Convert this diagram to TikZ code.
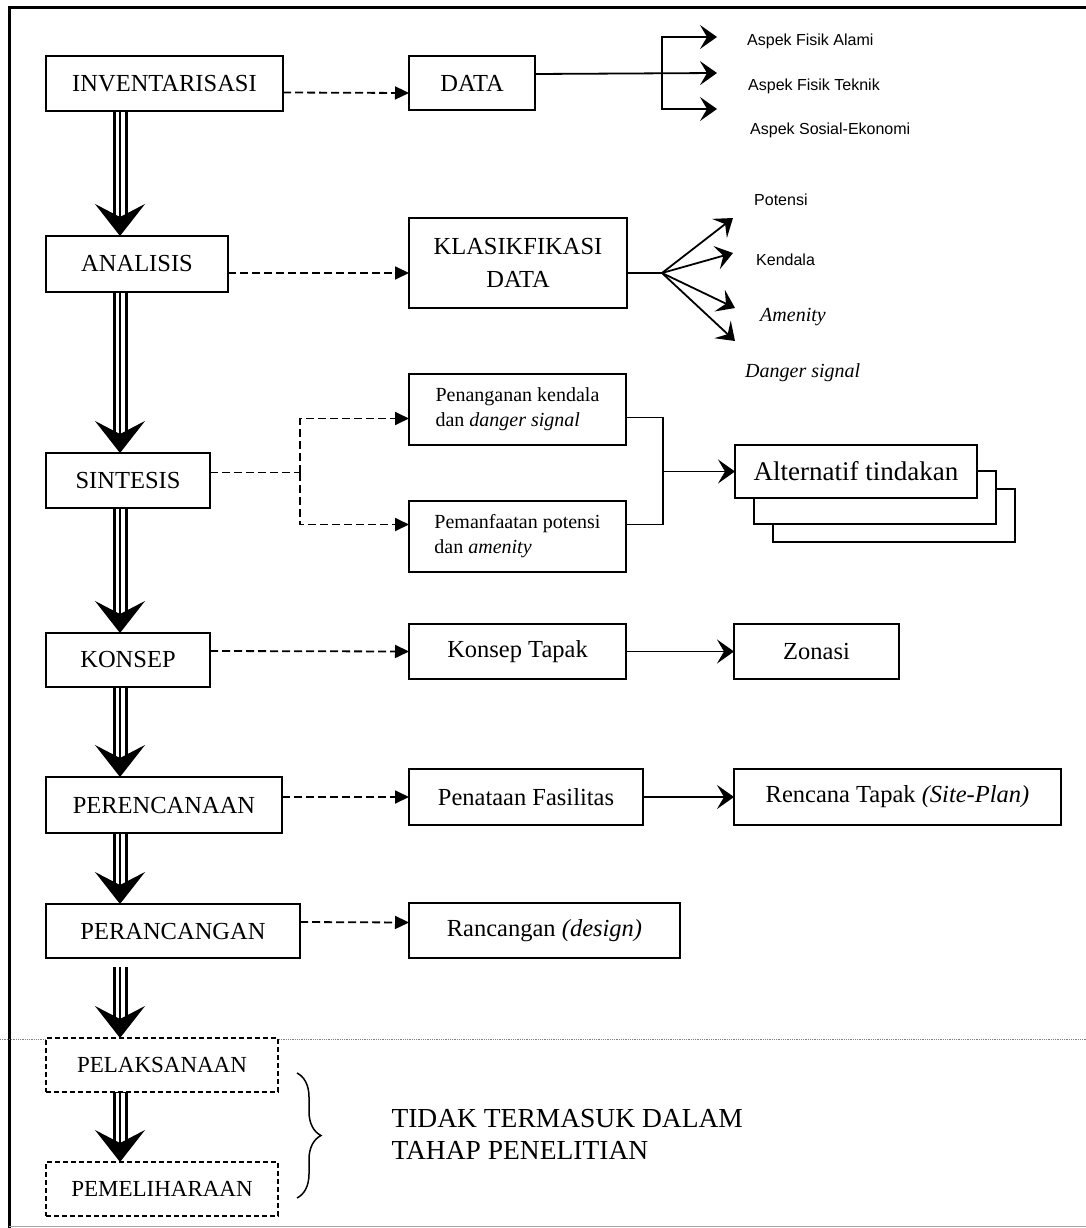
\documentclass[tikz,border=0pt]{standalone}
\usepackage{fontspec}
\setmainfont{Liberation Serif}
\newfontfamily\arialfont{Liberation Sans}
\usetikzlibrary{arrows.meta, positioning, shadows, decorations.pathreplacing}
\newcommand\stagefont{\fontsize{24.5pt}{33pt}\selectfont}
\newcommand\laterfont{\fontsize{23pt}{27pt}\selectfont}
\newcommand\notefont{\fontsize{20pt}{25pt}\selectfont}
\newcommand\altfont{\fontsize{27pt}{32pt}\selectfont}
\newcommand\tagfont{\arialfont\fontsize{16pt}{19pt}\selectfont}
\newcommand\italfont{\itshape\fontsize{20pt}{24pt}\selectfont}
\newcommand\exclfont{\fontsize{27.5pt}{32pt}\selectfont}
\tikzset{
    base/.style={draw, line width=1.8pt, inner sep=0pt, outer sep=0pt, align=center, fill=white},
    stage/.style={base, minimum height=55pt, font=\stagefont},
    later/.style={base, dash pattern=on 5pt off 3pt, minimum width=232pt, minimum height=54pt, font=\laterfont},
    item/.style={base, minimum height=55pt, font=\stagefont},
    note/.style={base, align=left, minimum width=217pt, minimum height=71pt, font=\notefont},
    altbox/.style={base, minimum width=242pt, minimum height=53pt, font=\altfont,
        copy shadow={shadow xshift=38pt, shadow yshift=-44pt, draw=black, fill=white, line width=1.8pt},
        copy shadow={shadow xshift=19pt, shadow yshift=-26pt, draw=black, fill=white, line width=1.8pt}},
    tag/.style={anchor=west, inner sep=0pt, font=\tagfont},
    flow/.style={line width=1.6pt, -{Stealth[length=32pt, width=50pt, inset=13pt]},
        preaction={draw, -, line width=15pt, shorten >=12pt},
        preaction={draw=white, -, line width=9pt, shorten >=12pt, shorten <=1pt}},
    dashline/.style={line width=1.8pt, dash pattern=on 8pt off 4pt},
    dasharrow/.style={dashline, -{Triangle[length=14pt, width=13pt]}},
    conn/.style={line width=1.8pt},
    barb/.style={conn, -{Stealth[length=17pt, width=24pt, inset=7pt]}}
}
\begin{document}
\begin{tikzpicture}[x=1pt, y=-1pt]
    \useasboundingbox (0,0) rectangle (1086,1228);
    % frame
    \draw [line width=3pt] (9,1228) -- (9,8) -- (1086,8);
    \draw [gray!70, line width=1pt] (9,1226) -- (1086,1226);
    \draw [gray, line width=0.8pt, densely dotted] (0,1039) -- (1086,1039);

    % stages
    \node (inv) [stage, anchor=north west, minimum width=237pt] at (46,56) {INVENTARISASI};
    \node (ana) [stage, below=125pt of inv.south west, anchor=north west, minimum width=182pt, minimum height=56pt] {ANALISIS};
    \node (sin) [stage, below=161pt of ana.south west, anchor=north west, minimum width=164pt] {SINTESIS};
    \node (kon) [stage, below=125pt of sin.south west, anchor=north west, minimum width=164pt, minimum height=54pt] {KONSEP};
    \node (per) [stage, below=90pt of kon.south west, anchor=north west, minimum width=236pt, minimum height=56pt] {PERENCANAAN};
    \node (pra) [stage, below=71pt of per.south west, anchor=north west, minimum width=254pt, minimum height=54pt] {PERANCANGAN};
    \node (pel) [later, below=80pt of pra.south west, anchor=north west] {PELAKSANAAN};
    \node (pem) [later, below=70pt of pel.south west, anchor=north west] {PEMELIHARAAN};
    \coordinate (spine) at (120,0);

    % outputs
    \node (data) [item, right=126pt of inv.north east, anchor=north west, minimum width=126pt, minimum height=54pt] {DATA};
    \node (kla) [item, below=108pt of data.south west, anchor=north west, minimum width=218pt, minimum height=90pt] {KLASIKFIKASI\\DATA};
    \node (pen) [note, below=66pt of kla.south west, anchor=north west] {Penanganan kendala\\dan \textit{danger signal}};
    \node (pot) [note, below=56pt of pen.south west, anchor=north west] {Pemanfaatan potensi\\dan \textit{amenity}};
    \node (tap) [item, below=52pt of pot.south west, anchor=north west, minimum width=217pt] {Konsep Tapak};
    \node (fas) [item, below=90pt of tap.south west, anchor=north west, minimum width=234pt, minimum height=56pt] {Penataan Fasilitas};
    \node (ran) [item, below=78pt of fas.south west, anchor=north west, minimum width=271pt] {Rancangan \textit{(design)}};
    \node (zon) [item, right=108pt of tap.north east, anchor=north west, minimum width=165pt] {Zonasi};
    \node (ren) [item, right=91pt of fas.north east, anchor=north west, minimum width=327pt, minimum height=56pt] {Rencana Tapak \textit{(Site-Plan)}};
    \node (alt) [altbox, right=109pt of pen.south east, anchor=north west] {Alternatif tindakan};

    % data aspects
    \coordinate (fork) at (662,73);
    \coordinate (asp1) at (717,37);
    \coordinate (asp2) at (717,73);
    \coordinate (asp3) at (717,109);
    \node (alami) [tag] at (747,41) {Aspek Fisik Alami};
    \node (teknik) [tag] at (748,86) {Aspek Fisik Teknik};
    \node (sosial) [tag] at (750,130) {Aspek Sosial-Ekonomi};

    % classification
    \coordinate (fan) at (662,273);
    \coordinate (fan1) at (733,218);
    \coordinate (fan2) at (733,253);
    \coordinate (fan3) at (735,308);
    \coordinate (fan4) at (735,341);
    \node (potensi) [tag] at (754,200) {Potensi};
    \node (kendala) [tag] at (756,260) {Kendala};
    \node (amenity) [tag, font=\italfont] at (760,317) {Amenity};
    \node (danger) [tag, font=\italfont] at (745,373) {Danger signal};

    \node (excl) [anchor=west, align=left, font=\exclfont] at (388,1134) {TIDAK TERMASUK DALAM\\TAHAP PENELITIAN};

    % main flow
    \draw [flow] (inv.south -| spine) -- (ana.north -| spine);
    \draw [flow] (ana.south -| spine) -- (sin.north -| spine);
    \draw [flow] (sin.south -| spine) -- (kon.north -| spine);
    \draw [flow] (kon.south -| spine) -- (per.north -| spine);
    \draw [flow] (per.south -| spine) -- (pra.north -| spine);
    \draw [flow, shorten <=9pt] (pra.south -| spine) -- (pel.north -| spine);
    \draw [flow] (pel.south -| spine) -- (pem.north -| spine);

    % side flow
    \draw [dasharrow] ([yshift=-9pt]inv.east) -- ([yshift=-10pt]data.west);
    \draw [dasharrow] ([yshift=-9pt]ana.east) -- ([yshift=-10pt]kla.west);
    \draw [dashline] ([yshift=8pt]sin.east) -- ++(90,0) coordinate (split);
    \draw [dasharrow] (split) |- ([yshift=-9pt]pen.west);
    \draw [dasharrow] (split) |- ([yshift=12pt]pot.west);
    \draw [dasharrow] ([yshift=9pt]kon.east) -- (tap.west);
    \draw [dasharrow] ([yshift=8pt]per.east) -- (fas.west);
    \draw [dasharrow] ([yshift=9pt]pra.east) -- ([yshift=8pt]ran.west);

    \draw [barb] ([yshift=9pt]data.east) -- (asp2);
    \draw [barb] (fork) |- (asp1);
    \draw [barb] (fork) |- (asp3);
    \draw [conn] ([yshift=-10pt]kla.east) -- (fan);
    \draw [barb] (fan) -- (fan1);
    \draw [barb] (fan) -- (fan2);
    \draw [barb] (fan) -- (fan3);
    \draw [barb] (fan) -- (fan4);
    \draw [conn] ([yshift=-8pt]pen.east) -- ++(37,0) coordinate (join) |- ([yshift=12pt]pot.east);
    \draw [barb] (join |- alt.west) -- (alt.west);
    \draw [barb] (tap.east) -- (zon.west);
    \draw [barb] (fas.east) -- (ren.west);

    \draw [line width=1.5pt, decorate, decoration={brace, amplitude=24pt}] ([xshift=19pt, yshift=-8pt]pel.east) -- ([xshift=19pt, yshift=-9pt]pem.east);
\end{tikzpicture}
\end{document}
